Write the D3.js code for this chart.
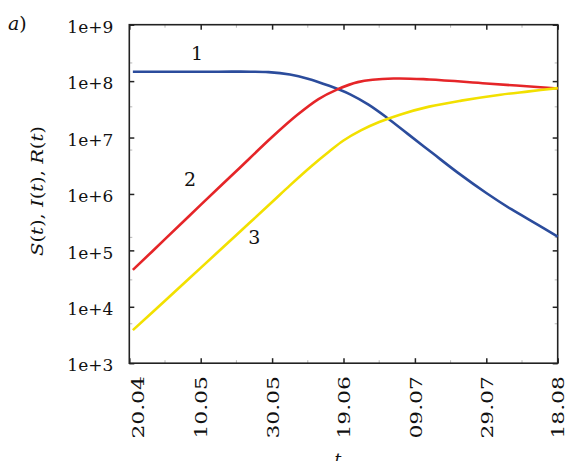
<!DOCTYPE html>
<html>
<head>
<meta charset="utf-8">
<script src="https://cdn.jsdelivr.net/npm/d3@7"></script>
<style>
  html, body { margin: 0; padding: 0; background: #fff; overflow: hidden; }
  svg { display: block; }
  svg text { font-family: "DejaVu Serif", serif; fill: #111; }
</style>
</head>
<body>
<div id="chart"></div>
<script>
// x range and ticks (dd.mm, year 2020)
const xStart = "2020-04-20";
const xEnd = "2020-08-18";
const xTickDates = ["2020-04-20", "2020-05-10", "2020-05-30", "2020-06-19", "2020-07-09", "2020-07-29", "2020-08-18"];
const xMinorDates = ["2020-04-30", "2020-05-20", "2020-06-09", "2020-06-29", "2020-07-19", "2020-08-08"];

// y ticks (log scale)
const yTickValues = [1e3, 1e4, 1e5, 1e6, 1e7, 1e8, 1e9];
const yTickLabels = ["1e+3", "1e+4", "1e+5", "1e+6", "1e+7", "1e+8", "1e+9"];
const yMinorValues = [5e3, 3e4, 1.7e5, 6e6, 3.5e7, 2.1e8];

// curve 1: S(t)
const sDates = ["2020-04-21", "2020-05-15", "2020-05-24", "2020-05-29", "2020-06-04", "2020-06-09", "2020-06-15", "2020-06-21", "2020-06-26", "2020-07-01", "2020-07-07", "2020-07-14", "2020-07-21", "2020-07-29", "2020-08-05", "2020-08-12", "2020-08-18"];
const sValues = [1.47e8, 1.47e8, 1.47e8, 1.445e8, 1.31e8, 1.107e8, 8.25e7, 5.78e7, 3.83e7, 2.29e7, 1.16e7, 5.25e6, 2.39e6, 1.04e6, 5.36e5, 2.96e5, 1.76e5];

// curve 2: I(t)
const iDates = ["2020-04-21", "2020-04-30", "2020-05-10", "2020-05-20", "2020-05-30", "2020-06-06", "2020-06-12", "2020-06-17", "2020-06-23", "2020-07-03", "2020-07-13", "2020-07-29", "2020-08-18"];
const iValues = [4.5e4, 1.58e5, 6.4e5, 2.55e6, 1.02e7, 2.5e7, 4.8e7, 7e7, 9.6e7, 1.11e8, 1.07e8, 9.1e7, 7.4e7];

// curve 3: R(t)
const rDates = ["2020-04-21", "2020-04-30", "2020-05-10", "2020-05-20", "2020-05-30", "2020-06-04", "2020-06-10", "2020-06-15", "2020-06-19", "2020-06-24", "2020-06-29", "2020-07-05", "2020-07-13", "2020-07-22", "2020-08-02", "2020-08-10", "2020-08-18"];
const rValues = [3.86e3, 1.28e4, 4.9e4, 1.87e5, 7.2e5, 1.42e6, 3.1e6, 5.65e6, 8.85e6, 1.35e7, 1.88e7, 2.57e7, 3.53e7, 4.51e7, 5.74e7, 6.57e7, 7.52e7];

const curveLabels = ["1", "2", "3"];
const curveColors = ["#2b4c9c", "#e52528", "#f2e000"];

const width = 566;
const height = 461;
const margin = { top: 24.7, right: 8.3, bottom: 97.8, left: 129.3 };
const innerWidth = width - margin.left - margin.right;
const innerHeight = height - margin.top - margin.bottom;

const parse = d3.utcParse("%Y-%m-%d");
const fmt = d3.utcFormat("%d.%m");

const svg = d3.select("#chart")
  .append("svg")
  .attr("width", width)
  .attr("height", height);

const g = svg.append("g").attr("transform", `translate(${margin.left},${margin.top})`);

const x = d3.scaleUtc().domain([parse(xStart), parse(xEnd)]).range([0, innerWidth]);
const y = d3.scaleLog().domain([1e3, 1e9]).range([innerHeight, 0]);

// minor ticks (grey, inward, all four sides)
const minor = g.append("g").attr("stroke", "#b8b8b8").attr("stroke-width", 1);
xMinorDates.map(parse).forEach(d => {
  minor.append("line").attr("x1", x(d)).attr("x2", x(d)).attr("y1", innerHeight).attr("y2", innerHeight - 3);
  minor.append("line").attr("x1", x(d)).attr("x2", x(d)).attr("y1", 0).attr("y2", 3);
});
yMinorValues.forEach(v => {
  minor.append("line").attr("x1", 0).attr("x2", 3).attr("y1", y(v)).attr("y2", y(v));
  minor.append("line").attr("x1", innerWidth).attr("x2", innerWidth - 3).attr("y1", y(v)).attr("y2", y(v));
});

// major ticks via axes, inward
const xAxis = d3.axisBottom(x).tickValues(xTickDates.map(parse)).tickSize(-5).tickFormat(fmt);
const xAxisTop = d3.axisTop(x).tickValues(xTickDates.map(parse)).tickSize(-5).tickFormat("");
const yAxis = d3.axisLeft(y).tickValues(yTickValues).tickSize(-5)
  .tickFormat(v => yTickLabels[yTickValues.indexOf(v)]);
const yAxisRight = d3.axisRight(y).tickValues(yTickValues).tickSize(-5).tickFormat("");

const gx = g.append("g").attr("transform", `translate(0,${innerHeight})`).call(xAxis);
g.append("g").call(xAxisTop);
const gy = g.append("g").call(yAxis);
g.append("g").attr("transform", `translate(${innerWidth},0)`).call(yAxisRight);

g.selectAll(".domain").remove();
g.selectAll(".tick line").attr("stroke", "#222").attr("stroke-width", 1.5);

// rotated date labels, stretched along their length like the reference
gx.selectAll(".tick text")
  .attr("transform", (d, i) => `translate(${i === 0 ? 8 : 0},13) rotate(-90) scale(1.28,1)`)
  .attr("text-anchor", "end")
  .attr("x", 0)
  .attr("y", 0)
  .attr("dy", "0.36em")
  .attr("font-size", 17);

gy.selectAll(".tick text")
  .attr("x", -16)
  .attr("dy", "0.45em")
  .attr("font-size", 17);

// frame
g.append("rect")
  .attr("width", innerWidth)
  .attr("height", innerHeight)
  .attr("fill", "none")
  .attr("stroke", "#222")
  .attr("stroke-width", 1.6);

// curves
const line = d3.line()
  .x(d => x(d.date))
  .y(d => y(d.value))
  .curve(d3.curveCatmullRom.alpha(0.5));

const series = [
  { dates: sDates, values: sValues },
  { dates: iDates, values: iValues },
  { dates: rDates, values: rValues }
];

series.forEach((s, i) => {
  const pts = s.dates.map((d, k) => ({ date: parse(d), value: s.values[k] }));
  g.append("path")
    .datum(pts)
    .attr("fill", "none")
    .attr("stroke", curveColors[i])
    .attr("stroke-width", 2.6)
    .attr("d", line);
});

// curve numbers
const labelPos = [
  { date: "2020-05-09", value: 3.15e8 },
  { date: "2020-05-07", value: 1.84e6 },
  { date: "2020-05-25", value: 1.72e5 }
];
labelPos.forEach((p, i) => {
  g.append("text")
    .attr("x", x(parse(p.date)))
    .attr("y", y(p.value))
    .attr("dy", "0.36em")
    .attr("text-anchor", "middle")
    .attr("font-size", 19)
    .text(curveLabels[i]);
});

// y title
const yTitle = svg.append("text")
  .attr("transform", "translate(43,191) rotate(-90)")
  .attr("text-anchor", "middle")
  .attr("font-size", 17)
  .attr("textLength", 130)
  .attr("lengthAdjust", "spacingAndGlyphs");
[["S", true], ["(", false], ["t", true], "), ", ["I", true], ["(", false], ["t", true], "), ", ["R", true], ["(", false], ["t", true], [")", false]]
  .forEach(part => {
    const [txt, it] = Array.isArray(part) ? part : [part, false];
    yTitle.append("tspan").attr("font-style", it ? "italic" : "normal").text(txt);
  });

// x title
svg.append("text")
  .attr("x", 338)
  .attr("y", 465)
  .attr("text-anchor", "middle")
  .attr("font-size", 17)
  .attr("font-style", "italic")
  .text("t");

// panel tag
const tag = svg.append("text").attr("x", 8).attr("y", 30).attr("font-size", 19);
tag.append("tspan").attr("font-style", "italic").text("a");
tag.append("tspan").text(")");
</script>
</body>
</html>
